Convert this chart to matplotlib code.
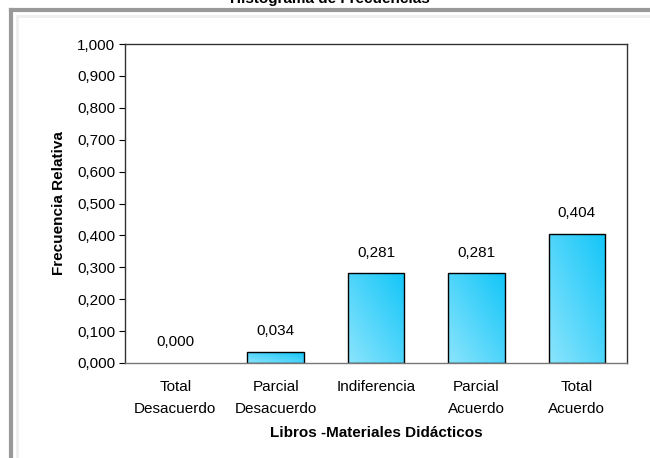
import numpy as np
import matplotlib.pyplot as plt
from matplotlib.lines import Line2D
from matplotlib.colors import LinearSegmentedColormap

plt.rcParams['font.family'] = ['Liberation Sans', 'DejaVu Sans']

categorias = ['Total\nDesacuerdo', 'Parcial\nDesacuerdo', 'Indiferencia',
              'Parcial\nAcuerdo', 'Total\nAcuerdo']
frecuencias = [0.000, 0.034, 0.281, 0.281, 0.404]
etiquetas = ['0,000', '0,034', '0,281', '0,281', '0,404']
yticks = [0.0, 0.1, 0.2, 0.3, 0.4, 0.5, 0.6, 0.7, 0.8, 0.9, 1.0]

fig = plt.figure(figsize=(6.5, 4.58), dpi=100)
ax = fig.add_axes([125/650, 1-363/458, 502/650, 319/458])

x = np.arange(len(categorias))
bars = ax.bar(x, frecuencias, width=0.56, color='#4fd3fb', edgecolor='black',
              linewidth=1, zorder=2)

# gradiente dentro de cada barra (claro abajo-izq, intenso arriba-der)
cmap = LinearSegmentedColormap.from_list('g', ['#8ae4fd', '#14c6f8'])
gx, gy = np.meshgrid(np.linspace(0, 1, 60), np.linspace(0, 1, 60))
grad = (gx + gy) / 2
for b in bars:
    if b.get_height() <= 0:
        b.set_visible(False)
        continue
    x0, w, h = b.get_x(), b.get_width(), b.get_height()
    im = ax.imshow(grad, cmap=cmap, origin='lower', aspect='auto',
                   extent=[x0, x0 + w, 0, h], zorder=2.5)
    im.set_clip_path(b)
    b.set_facecolor('none')
    b.set_zorder(3)

for xi, v, t in zip(x, frecuencias, etiquetas):
    ax.annotate(t, (xi, v), xytext=(0, 15), textcoords='offset points',
                ha='center', va='center', fontsize=11)

ax.set_xlim(-0.5, len(categorias) - 0.5)
ax.set_ylim(0, 1)
ax.set_yticks(yticks)
ax.set_yticklabels([f'{t:.3f}'.replace('.', ',') for t in yticks], fontsize=11)
ax.set_xticks(x)
ax.set_xticklabels(categorias, fontsize=11, linespacing=1.75)
ax.tick_params(axis='x', length=0, pad=12)
ax.tick_params(axis='y', length=4, direction='out', pad=3)
for s in ax.spines.values():
    s.set_color('#333333')
    s.set_linewidth(1)
ax.spines['bottom'].set_color('#777777')
ax.spines['bottom'].set_zorder(4)

ax.set_ylabel('Frecuencia Relativa', fontsize=11, fontweight='bold', labelpad=8)
ax.set_xlabel('Libros -Materiales Didácticos', fontsize=11, fontweight='bold',
              labelpad=7)

# marco gris del grafico
fig.add_artist(Line2D([11/650, 1], [1-10/458, 1-10/458], color='#999999', lw=3))
fig.add_artist(Line2D([11/650, 11/650], [0, 1-10/458], color='#999999', lw=3))
fig.add_artist(Line2D([17/650, 1], [1-16/458, 1-16/458], color='#eeeeee', lw=2))
fig.add_artist(Line2D([17/650, 17/650], [0, 1-16/458], color='#eeeeee', lw=2))

fig.text(330/650, 1-3/458, 'Histograma de Frecuencias', ha='center',
         va='baseline', fontsize=11, fontweight='bold')

fig.savefig('out.png', dpi=100)
